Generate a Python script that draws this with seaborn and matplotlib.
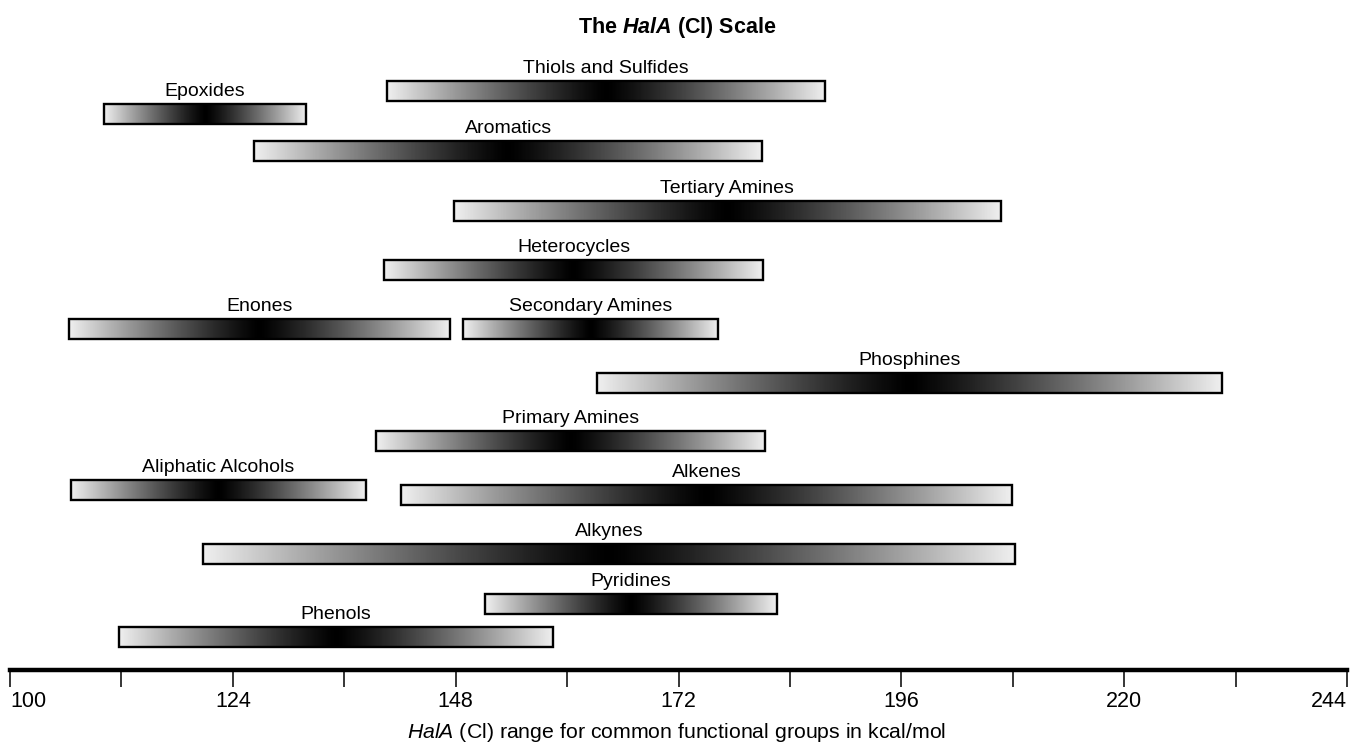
import numpy as np
import pandas as pd
import matplotlib
matplotlib.use("Agg")
import matplotlib.pyplot as plt
from matplotlib.colors import LinearSegmentedColormap
import seaborn as sns

# ---- data (kcal/mol) ----
groups = ["Thiols and Sulfides", "Epoxides", "Aromatics", "Tertiary Amines",
          "Heterocycles", "Enones", "Secondary Amines", "Phosphines",
          "Primary Amines", "Aliphatic Alcohols", "Alkenes", "Alkynes",
          "Pyridines", "Phenols"]
range_low = [140.6, 110.1, 126.3, 147.8, 140.3, 106.4, 148.8, 163.2,
             139.4, 106.6, 142.1, 120.8, 151.2, 111.7]
range_high = [187.8, 131.9, 181.0, 206.7, 181.1, 147.4, 176.3, 230.5,
              181.3, 138.3, 207.9, 208.2, 182.6, 158.5]
# vertical lane of each bar (layout)
lane = [91, 114, 151, 211, 270, 329, 329, 383, 441, 490, 495, 554, 604, 637]
major_ticks = [100, 124, 148, 172, 196, 220, 244]
minor_ticks = [112, 136, 160, 184, 208, 232]

sns.set_theme(style="white")
plt.rcParams["font.family"] = ["Liberation Sans", "DejaVu Sans"]
plt.rcParams["text.color"] = "black"
plt.rcParams["axes.labelcolor"] = "black"
plt.rcParams["xtick.color"] = "black"
plt.rcParams["mathtext.fontset"] = "custom"
plt.rcParams["mathtext.rm"] = "Liberation Sans"
plt.rcParams["mathtext.it"] = "Liberation Sans:italic"
plt.rcParams["mathtext.bf"] = "Liberation Sans:bold"
plt.rcParams["mathtext.bfit"] = "Liberation Sans:bold:italic"

W, H = 1354, 743
fig = plt.figure(figsize=(W / 100, H / 100), dpi=100)
ax_top_px, ax_bot_px = 60, 670
ax = fig.add_axes([10 / W, 1 - ax_bot_px / H, 1337 / W, (ax_bot_px - ax_top_px) / H])

bar_h = 20
cmap = LinearSegmentedColormap.from_list("g", ["#000000", "#efefef"])
grad = (np.abs(np.linspace(-1, 1, 400)) ** 1.2)[None, :]

for name, lo, hi, yc in zip(groups, range_low, range_high, lane):
    df = pd.DataFrame({"w": [hi - lo], "y": [yc]})
    n_before = len(ax.patches)
    sns.barplot(data=df, x="w", y="y", orient="h", native_scale=True,
                left=lo, width=bar_h, color="white", errorbar=None, ax=ax)
    patch = ax.patches[n_before]
    patch.set_facecolor("none")
    patch.set_edgecolor("black")
    patch.set_linewidth(1.7)
    patch.set_zorder(3)
    im = ax.imshow(grad, extent=[lo, hi, yc + bar_h / 2, yc - bar_h / 2],
                   cmap=cmap, vmin=0, vmax=1, aspect="auto", zorder=2,
                   interpolation="bilinear")
    im.set_clip_path(patch)
    ax.annotate(name, ((lo + hi) / 2, yc - bar_h / 2), xytext=(0, 6),
                textcoords="offset points", ha="center", va="baseline",
                fontsize=14, color="black")

ax.set_xlim(100, 244)
ax.set_ylim(ax_bot_px, ax_top_px)
ax.set_yticks([])
ax.set_ylabel("")
sns.despine(ax=ax, left=True, top=True, right=True)
ax.spines["bottom"].set_linewidth(3.2)
ax.spines["bottom"].set_color("black")
ax.set_xticks(major_ticks)
ax.set_xticks(minor_ticks, minor=True)
ax.set_xticklabels([str(t) for t in major_ticks], fontsize=15.5)
tl = ax.get_xticklabels()
tl[0].set_horizontalalignment("left")
tl[-1].set_horizontalalignment("right")
ax.tick_params(axis="x", which="both", direction="out", length=12, width=1.1,
               color="black", bottom=True, pad=3)
ax.set_xlabel("")
ax.grid(False)
ax.set_facecolor("white")

fig.text(0.5, 1 - 732 / H,
         r"$\mathit{HalA}$ (Cl) range for common functional groups in kcal/mol",
         ha="center", va="center", fontsize=15.3)
fig.text(0.5, 1 - 27 / H, r"$\mathbf{The}$ $\mathbfit{HalA}$ $\mathbf{(Cl)\ Scale}$",
         ha="center", va="center", fontsize=15.5)

fig.savefig("out.png", dpi=100, facecolor="white")
